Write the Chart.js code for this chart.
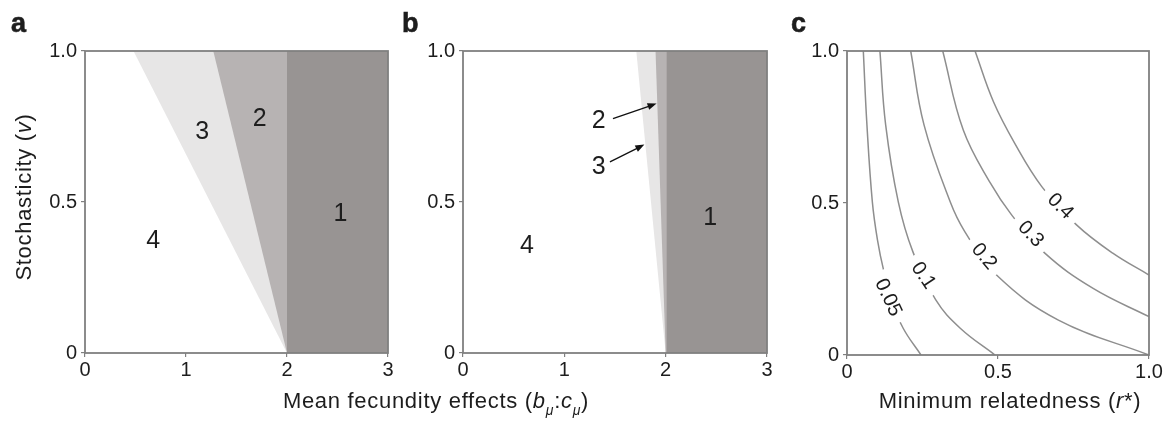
<!DOCTYPE html>
<html>
<head>
<meta charset="utf-8">
<script src="https://cdn.jsdelivr.net/npm/chart.js@4.4.1/dist/chart.umd.min.js"></script>
<style>
  html, body { margin: 0; padding: 0; background: #fff; }
  body { width: 1167px; height: 422px; position: relative; overflow: hidden;
         font-family: 'Liberation Sans', Arial, sans-serif; color: #1d1d1d; }
  .panel { position: absolute; top: 0; height: 422px; }
  .panel canvas { display: block; }
  .letter { position: absolute; font-weight: bold; font-size: 27px; line-height: 27px; -webkit-text-stroke: 0.6px #1d1d1d; }
  .title { position: absolute; font-size: 22px; line-height: 22px; white-space: nowrap; letter-spacing: 0.7px; }
  .title sub { font-size: 14px; vertical-align: -7px; line-height: 0; font-style: italic; }
</style>
</head>
<body>
<div class="panel" style="left:0;width:400px"><canvas id="chartA" width="400" height="422"></canvas></div>
<div class="panel" style="left:400px;width:400px"><canvas id="chartB" width="400" height="422"></canvas></div>
<div class="panel" style="left:780px;width:387px"><canvas id="chartC" width="387" height="422"></canvas></div>

<div class="letter" style="left:11px;top:10px">a</div>
<div class="letter" style="left:402px;top:10px">b</div>
<div class="letter" style="left:791px;top:10px">c</div>

<div class="title" style="left:24px;top:197px;transform:translate(-50%,-50%) rotate(-90deg)">Stochasticity (<i>v</i>)</div>
<div class="title" style="left:436px;top:401px;transform:translate(-50%,-50%)">Mean fecundity effects (<i>b</i><sub>μ</sub>:<i>c</i><sub>μ</sub>)</div>
<div class="title" style="left:1010px;top:401px;transform:translate(-50%,-50%)">Minimum relatedness (<i>r</i>*)</div>

<script>
    // ── Axes ───────────────────────────────────
    const fecundityTicks   = [0, 1, 2, 3];
    const fecundityLabels  = ['0', '1', '2', '3'];
    const stochTicks       = [0, 0.5, 1];
    const stochLabels      = ['0', '0.5', '1.0'];
    const relTicks         = [0, 0.5, 1];
    const relLabels        = ['0', '0.5', '1.0'];

    // ── Regions (panels a, b) ──────────────────
    // boundary x where it meets v = 1 (top) and v = 0 (bottom); order: 3|4, 2|3, 1|2
    const regionColors = ['#e7e6e6', '#b7b3b3', '#989493'];
    const aTopX    = [0.48, 1.27, 2.0];
    const aBottomX = [2.0, 2.0, 2.0];
    const bTopX    = [1.71, 1.90, 2.01];
    const bBottomX = [2.0, 2.0, 2.01];

    const regionText = ['1', '2', '3', '4'];
    const aLabelX = [2.53, 1.73, 1.16, 0.675];
    const aLabelY = [0.463, 0.777, 0.734, 0.373];
    const bLabelX = [2.44, 1.34, 1.34, 0.63];
    const bLabelY = [0.45, 0.77, 0.62, 0.356];

    // arrows in b pointing "2" and "3" at their thin strips
    const bArrowFrom = [[1.48, 0.776], [1.45, 0.633]];
    const bArrowTo   = [[1.91, 0.826], [1.79, 0.690]];

    // ── Contours (panel c) ─────────────────────
    const contourLevels = ['0.05', '0.1', '0.2', '0.3', '0.4'];
    const c005R = [0.054, 0.066, 0.084, 0.101, 0.121, 0.150, 0.186, 0.245];
    const c005V = [1.0, 0.757, 0.503, 0.378, 0.280, 0.175, 0.088, 0];
    const c01R  = [0.109, 0.128, 0.170, 0.218, 0.294, 0.375, 0.490];
    const c01V  = [1.0, 0.757, 0.503, 0.340, 0.181, 0.088, 0];
    const c02R  = [0.211, 0.255, 0.342, 0.390, 0.495, 0.700, 1.0];
    const c02V  = [1.0, 0.757, 0.503, 0.406, 0.263, 0.115, 0];
    const c03R  = [0.317, 0.385, 0.475, 0.545, 0.655, 0.815, 1.0];
    const c03V  = [1.0, 0.740, 0.565, 0.461, 0.335, 0.219, 0.126];
    const c04R  = [0.424, 0.485, 0.555, 0.645, 0.760, 0.880, 1.0];
    const c04V  = [1.0, 0.833, 0.697, 0.554, 0.428, 0.335, 0.263];

    const contourLabelR     = [0.139, 0.255, 0.456, 0.610, 0.708];
    const contourLabelV     = [0.190, 0.263, 0.326, 0.400, 0.491];
    const contourLabelAngle = [65, 56, 50, 46, 45];

    // ── Shared styling ─────────────────────────
    const FONT = '"Liberation Sans", Arial, sans-serif';
    const INK = '#1d1d1d';
    const FRAME = '#808080';
    Chart.defaults.font.family = FONT;
    Chart.defaults.color = INK;

    const toPts = (xs, ys) => xs.map((x, i) => ({ x, y: ys[i] }));

    function axis(pos, min, max, ticks, labels, size) {
        return {
            type: 'linear', position: pos, min, max,
            afterBuildTicks: s => { s.ticks = ticks.map(value => ({ value })); },
            afterFit: s => { if (pos === 'left') s.width = size; else s.height = size; },
            ticks: {
                callback: v => labels[ticks.indexOf(v)] ?? '',
                font: { size: 20 }, color: INK, padding: pos === 'left' ? 4 : 1,
                autoSkip: false, maxRotation: 0
            },
            grid: { drawOnChartArea: false, tickLength: 4, color: FRAME, lineWidth: 1.2 },
            border: { display: false }
        };
    }

    // frame, region numbers, arrows and contour labels
    const overlay = {
        id: 'overlay',
        afterDatasetsDraw(chart, args, opts) {
            const { ctx, chartArea: area } = chart;
            const sx = chart.scales.x, sy = chart.scales.y;
            ctx.save();

            (opts.contourLabels || []).forEach(l => {
                ctx.save();
                ctx.translate(sx.getPixelForValue(l.x), sy.getPixelForValue(l.y));
                ctx.rotate(l.angle * Math.PI / 180);
                ctx.font = '20px ' + FONT;
                const w = ctx.measureText(l.text).width;
                ctx.fillStyle = '#fff';
                ctx.fillRect(-w / 2 - 8, -10, w + 16, 20);
                ctx.fillStyle = INK;
                ctx.textAlign = 'center';
                ctx.textBaseline = 'middle';
                ctx.fillText(l.text, 0, 1);
                ctx.restore();
            });

            ctx.font = '25px ' + FONT;
            ctx.fillStyle = INK;
            ctx.textAlign = 'center';
            ctx.textBaseline = 'middle';
            (opts.labels || []).forEach(l => {
                ctx.fillText(l.text, sx.getPixelForValue(l.x), sy.getPixelForValue(l.y) + 1);
            });

            (opts.arrows || []).forEach(a => {
                const x0 = sx.getPixelForValue(a.from[0]), y0 = sy.getPixelForValue(a.from[1]);
                const x1 = sx.getPixelForValue(a.to[0]),   y1 = sy.getPixelForValue(a.to[1]);
                const ang = Math.atan2(y1 - y0, x1 - x0);
                ctx.strokeStyle = '#111';
                ctx.lineWidth = 1.3;
                ctx.beginPath();
                ctx.moveTo(x0, y0);
                ctx.lineTo(x1 - 6 * Math.cos(ang), y1 - 6 * Math.sin(ang));
                ctx.stroke();
                ctx.fillStyle = '#111';
                ctx.beginPath();
                ctx.moveTo(x1, y1);
                ctx.lineTo(x1 - 9 * Math.cos(ang) + 3.5 * Math.sin(ang), y1 - 9 * Math.sin(ang) - 3.5 * Math.cos(ang));
                ctx.lineTo(x1 - 9 * Math.cos(ang) - 3.5 * Math.sin(ang), y1 - 9 * Math.sin(ang) + 3.5 * Math.cos(ang));
                ctx.closePath();
                ctx.fill();
            });

            ctx.strokeStyle = FRAME;
            ctx.lineWidth = 1.8;
            ctx.strokeRect(area.left, area.top, area.width, area.height);
            ctx.restore();
        }
    };

    const baseOptions = (pad, yWidth, xHeight, xMax, xTicks, xLabels, yTicks, yLabels, overlayOpts) => ({
        responsive: false,
        animation: false,
        devicePixelRatio: 1,
        events: [],
        layout: { padding: pad },
        plugins: { legend: { display: false }, tooltip: { enabled: false }, overlay: overlayOpts },
        scales: {
            x: axis('bottom', 0, xMax, xTicks, xLabels, xHeight),
            y: axis('left', 0, 1, yTicks, yLabels, yWidth)
        }
    });

    // ── Panels a and b: stacked region polygons ─
    function regionSets(topX, bottomX) {
        return topX.map((tx, i) => ({
            data: [{ x: bottomX[i], y: 0 }, { x: 3, y: 0 }, { x: 3, y: 1 }, { x: tx, y: 1 }],
            showLine: true, fill: 'shape', borderWidth: 0, pointRadius: 0,
            backgroundColor: regionColors[i], borderColor: regionColors[i],
            order: 3 - i
        }));
    }

    function labelsFor(xs, ys) {
        return regionText.map((text, i) => ({ text, x: xs[i], y: ys[i] }));
    }

    new Chart(document.getElementById('chartA'), {
        type: 'scatter',
        data: { datasets: regionSets(aTopX, aBottomX) },
        options: baseOptions({ left: 0, top: 51, right: 12, bottom: 0 }, 85, 69, 3,
            fecundityTicks, fecundityLabels, stochTicks, stochLabels,
            { labels: labelsFor(aLabelX, aLabelY) }),
        plugins: [overlay]
    });

    new Chart(document.getElementById('chartB'), {
        type: 'scatter',
        data: { datasets: regionSets(bTopX, bBottomX) },
        options: baseOptions({ left: 0, top: 51, right: 33, bottom: 0 }, 63, 69, 3,
            fecundityTicks, fecundityLabels, stochTicks, stochLabels,
            {
                labels: labelsFor(bLabelX, bLabelY),
                arrows: bArrowFrom.map((from, i) => ({ from, to: bArrowTo[i] }))
            }),
        plugins: [overlay]
    });

    // ── Panel c: contour lines ─────────────────
    const contourSeries = [[c005R, c005V], [c01R, c01V], [c02R, c02V], [c03R, c03V], [c04R, c04V]];

    new Chart(document.getElementById('chartC'), {
        type: 'scatter',
        data: {
            datasets: contourSeries.map(([r, v], i) => ({
                label: contourLevels[i],
                data: toPts(r, v),
                showLine: true, tension: 0.4,
                borderColor: '#8e8e8e', borderWidth: 1.5, pointRadius: 0
            }))
        },
        options: baseOptions({ left: 0, top: 51, right: 18, bottom: 0 }, 67, 67, 1,
            relTicks, relLabels, stochTicks, stochLabels,
            {
                contourLabels: contourLevels.map((text, i) => ({
                    text, x: contourLabelR[i], y: contourLabelV[i], angle: contourLabelAngle[i]
                }))
            }),
        plugins: [overlay]
    });
</script>
</body>
</html>
